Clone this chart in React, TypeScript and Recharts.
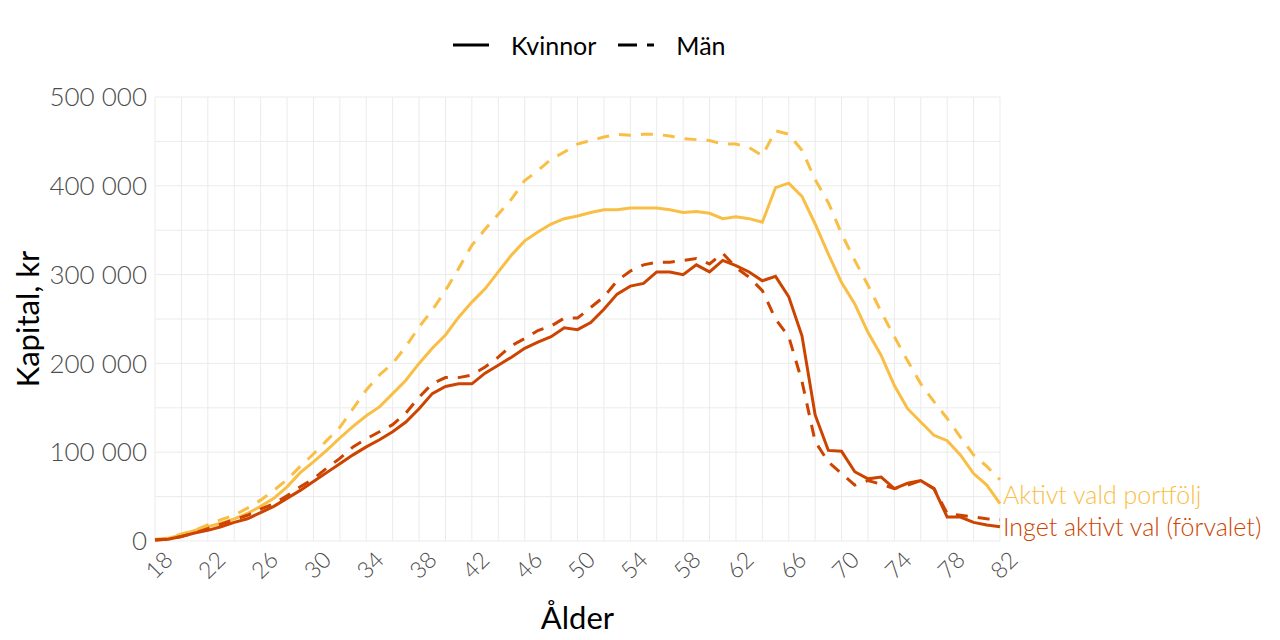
import React from 'react';
import { LineChart, Line, XAxis, YAxis, CartesianGrid, Legend, Label } from 'recharts';

const ages = [
  18, 19, 20, 21, 22, 23, 24, 25, 26, 27, 28, 29, 30, 31, 32, 33, 34, 35, 36, 37, 38, 39,
  40, 41, 42, 43, 44, 45, 46, 47, 48, 49, 50, 51, 52, 53, 54, 55, 56, 57, 58, 59, 60, 61,
  62, 63, 64, 65, 66, 67, 68, 69, 70, 71, 72, 73, 74, 75, 76, 77, 78, 79, 80, 81, 82,
];

// Kvinnor, aktivt vald portfölj
const womenActive = [
  2000, 3000, 7000, 12000, 16000, 20000, 25000, 31000, 39000, 48000, 61000, 77000, 89000,
  102000, 116000, 129000, 141000, 151000, 166000, 181000, 200000, 217000, 232000, 252000,
  269000, 284000, 303000, 322000, 338000, 348000, 357000, 363000, 366000, 370000, 373000,
  373000, 375000, 375000, 375000, 373000, 370000, 371000, 369000, 363000, 365000, 363000,
  359000, 398000, 403000, 388000, 357000, 323000, 291000, 267000, 235000, 209000, 175000,
  149000, 134000, 119000, 113000, 97000, 76000, 63000, 42000,
];

// Män, aktivt vald portfölj
const menActive = [
  1000, 3000, 8000, 12000, 18000, 24000, 29000, 37000, 46000, 57000, 69000, 84000, 98000,
  113000, 128000, 149000, 170000, 187000, 200000, 219000, 241000, 260000, 282000, 307000,
  333000, 351000, 368000, 385000, 406000, 417000, 430000, 438000, 447000, 451000, 455000,
  458000, 457000, 458000, 458000, 456000, 453000, 452000, 451000, 447000, 447000, 443000,
  434000, 462000, 458000, 440000, 407000, 381000, 346000, 316000, 288000, 258000, 230000,
  203000, 177000, 157000, 138000, 117000, 97000, 84000, 69000,
];

// Kvinnor, inget aktivt val (förvalet)
const womenDefault = [
  1000, 2000, 5000, 9000, 12000, 16000, 21000, 25000, 32000, 39000, 48000, 57000, 67000,
  77000, 87000, 97000, 106000, 114000, 123000, 134000, 149000, 166000, 174000, 177000,
  177000, 189000, 198000, 207000, 217000, 224000, 230000, 240000, 238000, 246000, 261000,
  278000, 287000, 290000, 303000, 303000, 300000, 311000, 303000, 316000, 310000, 303000,
  293000, 298000, 275000, 231000, 142000, 102000, 101000, 78000, 70000, 72000, 59000,
  65000, 68000, 59000, 27000, 27000, 21000, 18000, 16000,
];

// Män, inget aktivt val (förvalet)
const menDefault = [
  1000, 2000, 5000, 9000, 14000, 19000, 24000, 29000, 36000, 42000, 51000, 61000, 70000,
  82000, 93000, 106000, 115000, 123000, 131000, 144000, 162000, 177000, 184000, 184000,
  187000, 196000, 207000, 220000, 228000, 237000, 242000, 251000, 251000, 263000, 275000,
  293000, 304000, 311000, 314000, 314000, 316000, 318000, 312000, 324000, 308000, 297000,
  282000, 250000, 230000, 180000, 112000, 89000, 76000, 63000, 68000, 64000, 59000,
  63000, 68000, 59000, 31000, 29000, 27000, 25000, 24000,
];

const xTicks = ages.filter((a) => a % 2 === 0);
const xLabels = ages.filter((a) => (a - 18) % 4 === 0);
const yTicks = [0, 50000, 100000, 150000, 200000, 250000, 300000, 350000, 400000, 450000, 500000];
const yLabels = [0, 100000, 200000, 300000, 400000, 500000];

const YELLOW = '#F9BE45';
const ORANGE = '#CC4400';
const FONT = 'Lato, "Open Sans", sans-serif';
const DASH = '12 10';

const data = ages.map((age, i) => ({
  age,
  womenActive: womenActive[i],
  menActive: menActive[i],
  womenDefault: womenDefault[i],
  menDefault: menDefault[i],
}));

const fmt = (v: number) => String(v).replace(/\B(?=(\d{3})+(?!\d))/g, ' ');

const XTick = (props: any) => {
  const { x, y, payload } = props;
  if (!xLabels.includes(payload.value)) return null;
  return (
    <g transform={`translate(${x + 4},${y + 16})`}>
      <text transform="rotate(-45)" textAnchor="middle" dy="0.35em" fill="#4d4d4d" fontSize={23} fontWeight={300} fontFamily={FONT}>
        {payload.value}
      </text>
    </g>
  );
};

const YTick = (props: any) => {
  const { x, y, payload } = props;
  if (!yLabels.includes(payload.value)) return null;
  return (
    <text x={x} y={y} textAnchor="end" dy="0.35em" fill="#4d4d4d" fontSize={26} fontWeight={300} fontFamily={FONT}>
      {fmt(payload.value)}
    </text>
  );
};

const endLabel = (text: string, color: string, dy: string) => (props: any) => {
  if (props.index !== ages.length - 1) return null;
  return (
    <text x={props.x + 3} y={props.y} dy={dy} fill={color} fontSize={25} fontWeight={300} fontFamily={FONT}>
      {text}
    </text>
  );
};

const legendItems = [
  { name: 'Kvinnor', dash: undefined },
  { name: 'Män', dash: '19 10' },
];

const LegendContent = () => (
  <div style={{ display: 'flex', alignItems: 'center', fontFamily: FONT, fontSize: 25, color: '#000' }}>
    {legendItems.map((item, i) => (
      <div key={item.name} style={{ display: 'flex', alignItems: 'center', marginLeft: i === 0 ? 0 : 22 }}>
        <svg width={36} height={10}>
          <line x1={0} y1={5} x2={36} y2={5} stroke="#000" strokeWidth={3} strokeDasharray={item.dash} />
        </svg>
        <span style={{ marginLeft: 22 }}>{item.name}</span>
      </div>
    ))}
  </div>
);

export default function App() {
  return (
    <div style={{ position: 'absolute', left: 0, top: 0, width: 1280, height: 640, background: '#fff' }}>
      <LineChart width={1280} height={640} data={data} margin={{ top: 97, right: 280, bottom: 69, left: 55 }}>
        <CartesianGrid stroke="#ebebeb" strokeWidth={1} />
        <XAxis
          dataKey="age"
          type="number"
          domain={[18, 82]}
          ticks={xTicks}
          interval={0}
          axisLine={false}
          tickLine={false}
          height={30}
          tick={<XTick />}
        >
          <Label
            content={(p: any) => (
              <text
                x={p.viewBox.x + p.viewBox.width / 2}
                y={p.viewBox.y + 77}
                textAnchor="middle"
                dy="0.35em"
                fontSize={31}
                fontFamily={FONT}
                fill="#000"
              >
                Ålder
              </text>
            )}
          />
        </XAxis>
        <YAxis
          type="number"
          domain={[0, 500000]}
          ticks={yTicks}
          interval={0}
          axisLine={false}
          tickLine={false}
          width={100}
          tick={<YTick />}
        >
          <Label
            content={(p: any) => (
              <text
                transform={`translate(28,${p.viewBox.y + p.viewBox.height / 2}) rotate(-90)`}
                textAnchor="middle"
                dy="0.35em"
                fontSize={31}
                fontFamily={FONT}
                fill="#000"
              >
                Kapital, kr
              </text>
            )}
          />
        </YAxis>
        <Legend verticalAlign="middle" align="center" content={<LegendContent />} wrapperStyle={{ top: 30, left: 453, width: 'auto' }} />
        <Line dataKey="menActive" stroke={YELLOW} strokeWidth={3} strokeDasharray={DASH} dot={false} isAnimationActive={false} />
        <Line
          dataKey="womenActive"
          stroke={YELLOW}
          strokeWidth={3}
          dot={false}
          isAnimationActive={false}
          label={endLabel('Aktivt vald portfölj', YELLOW, '0')}
        />
        <Line dataKey="menDefault" stroke={ORANGE} strokeWidth={3} strokeDasharray={DASH} dot={false} isAnimationActive={false} />
        <Line
          dataKey="womenDefault"
          stroke={ORANGE}
          strokeWidth={3}
          dot={false}
          isAnimationActive={false}
          label={endLabel('Inget aktivt val (förvalet)', ORANGE, '0.35em')}
        />
      </LineChart>
    </div>
  );
}
